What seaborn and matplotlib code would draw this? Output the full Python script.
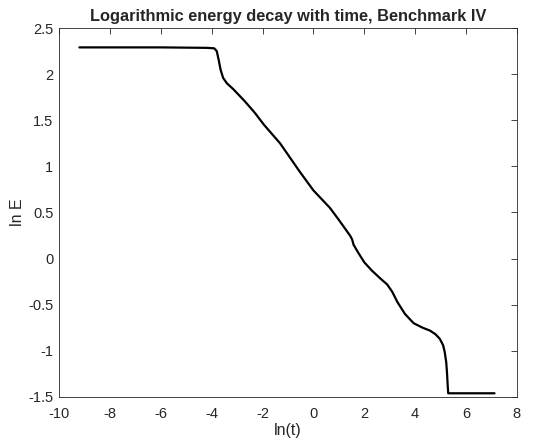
import matplotlib
matplotlib.use("Agg")
import matplotlib.pyplot as plt
import seaborn as sns
import pandas as pd

# values
ln_t = [-9.2, -6.0, -4.2, -3.9, -3.8, -3.72, -3.65, -3.55, -3.4, -3.16, -2.71,
        -2.3, -1.94, -1.31, -0.53, 0.0, 0.65, 1.0, 1.44, 1.52, 1.58, 1.75, 2.0,
        2.3, 2.65, 2.9, 3.1, 3.3, 3.6, 3.94, 4.3, 4.58, 4.8, 4.97, 5.1, 5.16,
        5.22, 5.25, 5.28, 5.3, 7.12]
ln_E = [2.29, 2.29, 2.285, 2.28, 2.25, 2.15, 2.05, 1.96, 1.90, 1.84, 1.71,
        1.58, 1.45, 1.25, 0.94, 0.74, 0.55, 0.42, 0.25, 0.21, 0.15, 0.07, -0.04,
        -0.13, -0.22, -0.28, -0.36, -0.47, -0.60, -0.70, -0.75, -0.78, -0.82,
        -0.87, -0.94, -1.01, -1.12, -1.23, -1.38, -1.46, -1.46]
x_ticks = [-10, -8, -6, -4, -2, 0, 2, 4, 6, 8]
y_ticks = [-1.5, -1, -0.5, 0, 0.5, 1, 1.5, 2, 2.5]

df = pd.DataFrame({'ln(t)': ln_t, 'ln E': ln_E})

sns.set_style("white")
plt.rcParams['font.family'] = ['Liberation Sans', 'DejaVu Sans']
plt.rcParams['axes.unicode_minus'] = False

fig = plt.figure(figsize=(5.34, 4.44), dpi=100)
ax = fig.add_axes([0.1105, 0.1059, 0.8575, 0.831])
sns.lineplot(data=df, x='ln(t)', y='ln E', color='black', linewidth=1.6,
             sort=False, estimator=None, ax=ax)

ax.set_xlim(-10, 8)
ax.set_ylim(-1.5, 2.5)
ax.set_xticks(x_ticks)
ax.set_yticks(y_ticks)
ax.set_xticklabels([f'{v:g}' for v in x_ticks])
ax.set_yticklabels([f'{v:g}' for v in y_ticks])
ax.tick_params(direction='in', top=True, right=True, length=4, width=0.6,
               labelsize=10.5, colors='#262626')
ax.tick_params(axis='x', pad=7)
ax.tick_params(axis='y', pad=4)
for s in ax.spines.values():
    s.set_linewidth(0.6)
    s.set_color('#262626')
ax.set_xlabel('ln(t)', fontsize=11.5, color='#262626', labelpad=2)
ax.set_ylabel('ln E', fontsize=11.5, color='#262626', labelpad=2)
ax.set_title('Logarithmic energy decay with time, Benchmark IV',
             fontsize=11.8, fontweight='bold', pad=5)

plt.savefig('out.png', dpi=100)
plt.close()
